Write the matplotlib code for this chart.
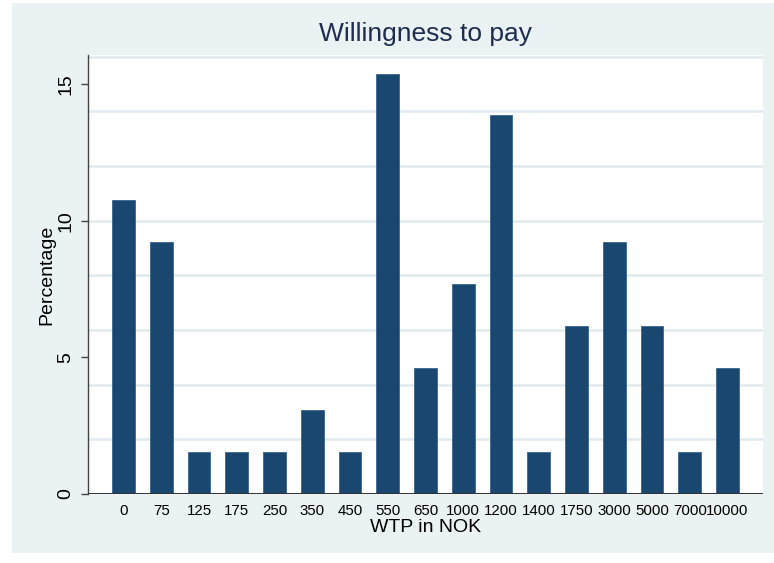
import matplotlib.pyplot as plt
from matplotlib.patches import Rectangle

# WTP categories (NOK) and share of respondents (%)
wtp_labels = ["0", "75", "125", "175", "250", "350", "450", "550", "650",
              "1000", "1200", "1400", "1750", "3000", "5000", "7000", "10000"]
percentages = [10.77, 9.23, 1.54, 1.54, 1.54, 3.08, 1.54, 15.38, 4.62,
               7.69, 13.85, 1.54, 6.15, 9.23, 6.15, 1.54, 4.62]
y_ticks = [0, 5, 10, 15]
grid_lines = [2, 4, 6, 8, 10, 12, 14, 16]

bg = '#eaf2f3'
navy = '#1a476f'
fonts = ['Liberation Sans', 'DejaVu Sans']

W, H = 774, 563
fig = plt.figure(figsize=(W / 100, H / 100), dpi=100)
fig.patch.set_facecolor('white')
# Stata-style light graph region
fig.patches.append(Rectangle((12 / W, (H - 553) / H), (W - 12) / W, 550 / H,
                             transform=fig.transFigure, facecolor=bg,
                             edgecolor='none', zorder=-5))

ax = fig.add_axes([88 / W, (H - 494) / H, (763 - 88) / W, (494 - 55) / H])
ax.set_zorder(2)
ax.set_facecolor('white')

x = list(range(len(wtp_labels)))
ax.bar(x, percentages, width=0.6, color=navy, edgecolor='#3a6590',
       linewidth=0.6, zorder=3)

for g in grid_lines:
    ax.axhline(g, color='#e1ebee', linewidth=1.8, zorder=1)
ax.axhline(0, color='#333333', linewidth=1.4, zorder=4)

ax.set_xlim(-0.94, len(wtp_labels) - 1 + 0.94)
ax.set_ylim(0, 16.06)

for s in ['top', 'right', 'bottom']:
    ax.spines[s].set_visible(False)
ax.spines['left'].set_color('#444444')
ax.spines['left'].set_linewidth(1.0)

ax.set_yticks(y_ticks)
ax.set_yticklabels([str(v) for v in y_ticks], rotation=90, va='center',
                   fontsize=14, family=fonts)
ax.tick_params(axis='y', length=5, width=1, color='#444444', pad=5)

ax.set_xticks(x)
ax.set_xticklabels(wtp_labels, fontsize=10.8, family=fonts)
ax.tick_params(axis='x', length=0, pad=7)

ax.set_xlabel('WTP in NOK', fontsize=14, family=fonts, labelpad=1)
ax.set_ylabel('Percentage', fontsize=14, family=fonts, labelpad=1)
ax.set_title('Willingness to pay', fontsize=19, color='#1e2d4f',
             family=fonts, pad=10)

fig.savefig('out.png', dpi=100, facecolor=fig.get_facecolor())
